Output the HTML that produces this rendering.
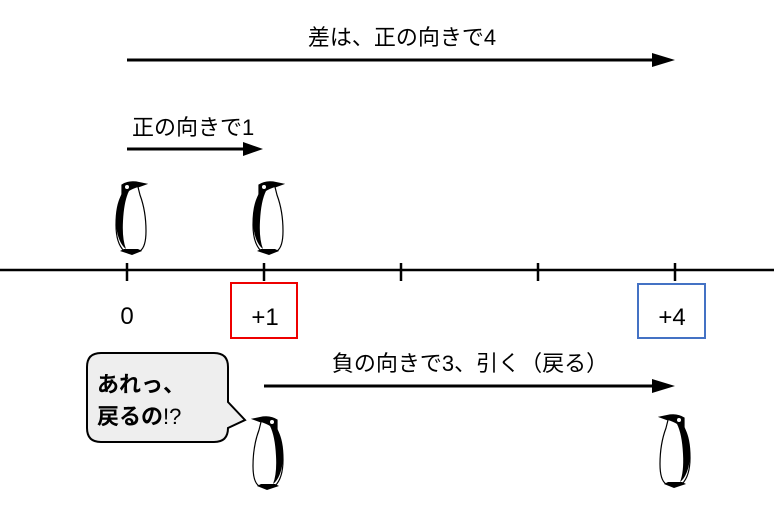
<!DOCTYPE html>
<html><head><meta charset="utf-8"><style>
html,body{margin:0;padding:0;background:#fff;}
svg{display:block;}
text{font-family:"Liberation Sans","Noto Sans CJK JP",sans-serif;fill:#000;}
</style></head><body>
<svg width="774" height="514" viewBox="0 0 774 514" xmlns="http://www.w3.org/2000/svg">
<defs>
<g id="peng">
  <path d="M10 4 Q16 0 24 1 L34 3 L26 6 Q27 10 28 14 Q34 30 34 50 Q34 66 28 70 L12 70 Q4 62 4 44 Q4 24 10 14 Z" fill="#fff" stroke="#000" stroke-width="1.2"/>
  <path d="M10 4 Q16 0 24 1 L34 3 L26 6 Q20 8 17 10 Q12 20 11 40 Q10 58 14 68 Q6 62 4 44 Q4 24 10 12 Z" fill="#000"/>
  <circle cx="15" cy="6" r="2" fill="#fff"/>
  <path d="M8 70 L20 74 L30 70 L26 68 L12 68 Z" fill="#000"/>
</g>
</defs>

<line x1="127" y1="60" x2="656" y2="60" stroke="#000" stroke-width="3"/>
<polygon points="652,53 675,60 652,67" fill="#000"/>
<text x="402" y="45" font-size="22" text-anchor="middle">差は、正の向きで4</text>

<line x1="127" y1="149" x2="246" y2="149" stroke="#000" stroke-width="3"/>
<polygon points="243,142 263,149 243,156" fill="#000"/>
<text x="132" y="135" font-size="22">正の向きで1</text>

<use href="#peng" transform="translate(112,181)"/>
<use href="#peng" transform="translate(249,181)"/>

<line x1="0" y1="270" x2="774" y2="270" stroke="#000" stroke-width="2.5"/>
<g stroke="#000" stroke-width="2.5">
<line x1="127" y1="263" x2="127" y2="281"/>
<line x1="264" y1="263" x2="264" y2="281"/>
<line x1="401" y1="263" x2="401" y2="281"/>
<line x1="538" y1="263" x2="538" y2="281"/>
<line x1="675" y1="263" x2="675" y2="281"/>
</g>
<text x="127" y="324" font-size="24" text-anchor="middle">0</text>
<rect x="231" y="283" width="66" height="55" fill="none" stroke="#e00" stroke-width="2"/>
<text x="265" y="325" font-size="24" text-anchor="middle">+1</text>
<rect x="638" y="284" width="67" height="54" fill="none" stroke="#4472c4" stroke-width="2"/>
<text x="672" y="325" font-size="24" text-anchor="middle">+4</text>

<line x1="264" y1="386" x2="655" y2="386" stroke="#000" stroke-width="3"/>
<polygon points="652,379 675,386 652,393" fill="#000"/>
<text x="470" y="371" font-size="22" text-anchor="middle">負の向きで3、引く（戻る）</text>

<path d="M101 353 L214 353 Q228 353 228 367 L228 402 L245 420 L228 428 Q228 442 214 442 L101 442 Q87 442 87 428 L87 367 Q87 353 101 353 Z" fill="#eeeeee" stroke="#000" stroke-width="2"/>
<text x="97" y="392" font-size="22" font-weight="bold">あれっ、</text>
<text x="97" y="424" font-size="22" font-weight="bold">戻るの<tspan font-weight="normal">!?</tspan></text>

<use href="#peng" transform="translate(287,416) scale(-1,1)"/>
<use href="#peng" transform="translate(694,414) scale(-1,1)"/>
</svg>
</body></html>
